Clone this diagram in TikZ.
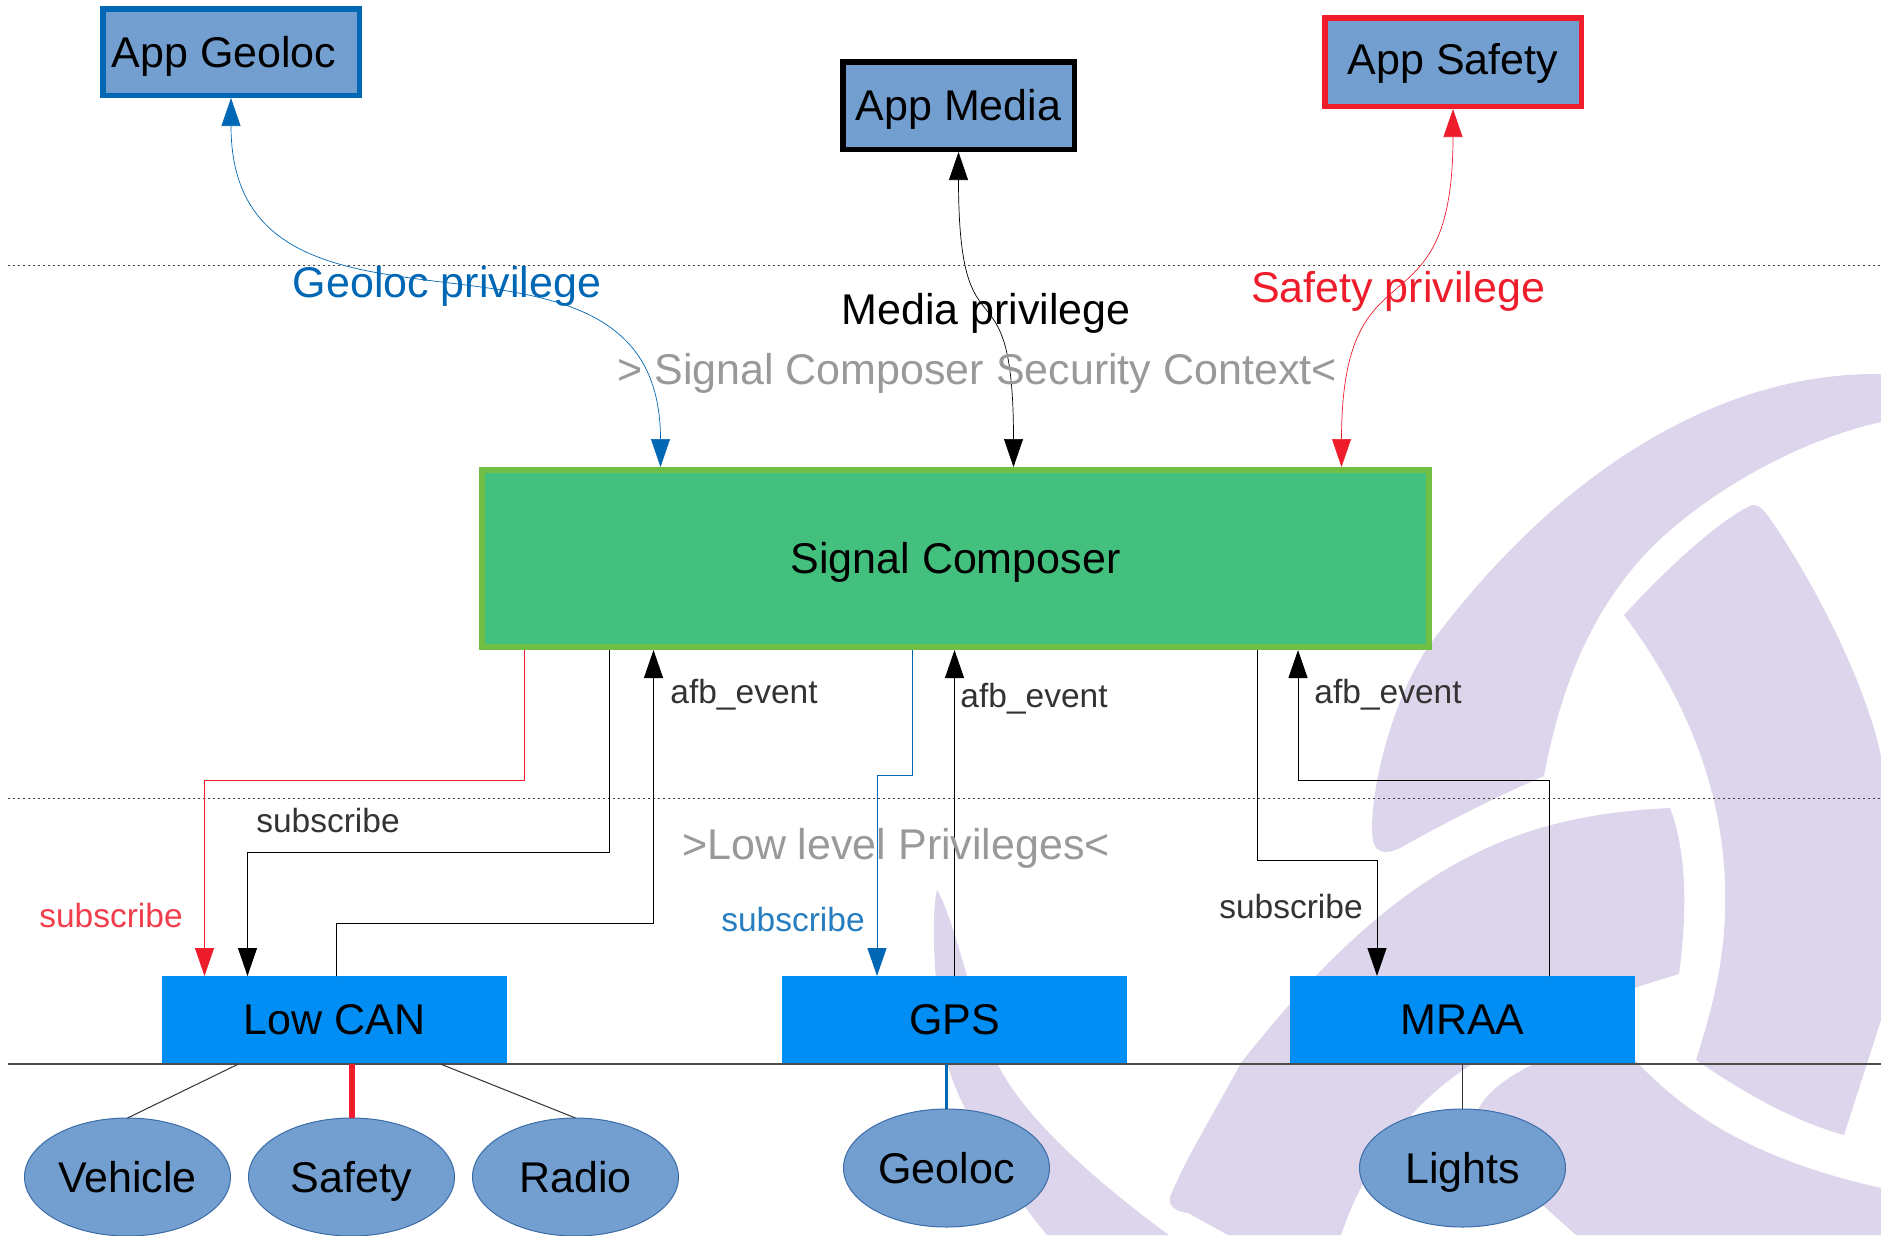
\documentclass[tikz,border=0pt]{standalone}
\usepackage{fontspec}
\setmainfont{Liberation Sans}
\usetikzlibrary{positioning,arrows.meta,shapes.geometric}
\definecolor{appfill}{HTML}{729FCF}
\definecolor{agblue}{HTML}{0067B5}
\definecolor{agred}{HTML}{EF1C2C}
\definecolor{composerfill}{HTML}{43BF7E}
\definecolor{composerline}{HTML}{70BF44}
\definecolor{bindingfill}{HTML}{008EF5}
\definecolor{ringline}{HTML}{3D6DA8}
\definecolor{logofill}{HTML}{DDD5EB}
\begin{document}
\begin{tikzpicture}[
            x=1pt, y=-1pt,
            >={Triangle[length=28pt,width=19pt]},
            bigfont/.style={font=\fontsize{43}{50}\selectfont},
            smallfont/.style={font=\fontsize{33.5}{40}\selectfont},
            app/.style={rectangle, draw, line width=5.5pt, fill=appfill, bigfont, text height=31pt, text depth=0pt, inner sep=0pt},
            composer/.style={rectangle, draw=composerline, line width=6pt, fill=composerfill, bigfont, text height=31pt, text depth=2pt, minimum width=947pt, minimum height=177pt},
            binding/.style={rectangle, fill=bindingfill, bigfont, text height=31pt, text depth=2pt, minimum width=345pt, minimum height=88pt, outer sep=0pt},
            ring/.style={ellipse, draw=ringline, line width=1pt, fill=appfill, bigfont, text height=31pt, text depth=0pt, minimum width=206pt, minimum height=118pt, inner sep=0pt, outer sep=0pt},
            arrow/.style={->, line width=1pt},
            privilege/.style={<->, line width=0.7pt},
            leg/.style={line width=1pt, draw=black!80},
            rule/.style={line width=1pt, draw=black!75, dash pattern=on 2pt off 3pt},
            biglabel/.style={bigfont, anchor=base, inner sep=0pt},
            smalllabel/.style={smallfont, anchor=base, inner sep=0pt},
            logo/.style={fill=logofill, draw=none}
        ]
        \useasboundingbox (0,0) rectangle (1881,1235);

        \begin{scope}
        \clip (0,0) rectangle (1881,1235);
        \fill[logo] (1881,374) .. controls (1720,372) and (1560,470) .. (1431,643)
            .. controls (1401,683) and (1372,770) .. (1372,830)
            .. controls (1372,855) and (1385,855) .. (1400,848)
            .. controls (1450,820) and (1500,795) .. (1544,776)
            .. controls (1560,690) and (1590,610) .. (1652,547)
            .. controls (1710,490) and (1800,440) .. (1881,422) -- cycle;
        \fill[logo] (1624,615) .. controls (1670,565) and (1720,520) .. (1750,506)
            .. controls (1757,503) and (1762,508) .. (1768,516)
            .. controls (1810,575) and (1865,680) .. (1881,756)
            -- (1881,1020) -- (1844,1135)
            .. controls (1790,1120) and (1740,1090) .. (1696,1060)
            .. controls (1715,1000) and (1727,950) .. (1725,885)
            .. controls (1722,780) and (1680,690) .. (1624,615) -- cycle;
        \fill[logo] (1670,808) .. controls (1520,815) and (1400,860) .. (1241,1063)
            .. controls (1210,1120) and (1185,1160) .. (1170,1197)
            .. controls (1168,1205) and (1175,1212) .. (1188,1213)
            -- (1228,1235) -- (1341,1235)
            .. controls (1370,1150) and (1420,1100) .. (1463,1070)
            .. controls (1520,1030) and (1590,1000) .. (1679,974)
            .. controls (1685,930) and (1690,860) .. (1670,808) -- cycle;
        \fill[logo] (1532,1065) .. controls (1500,1080) and (1480,1100) .. (1476,1115)
            .. controls (1470,1140) and (1520,1180) .. (1548,1210)
            -- (1576,1235) -- (1881,1235) -- (1881,1188)
            .. controls (1780,1165) and (1700,1130) .. (1635,1060) -- cycle;
        \fill[logo] (937,890) .. controls (930,920) and (935,1000) .. (947,1063)
            .. controls (960,1110) and (1005,1185) .. (1047,1235)
            -- (1169,1235) .. controls (1080,1170) and (1020,1110) .. (997,1063)
            .. controls (970,1000) and (955,920) .. (937,890) -- cycle;
        \end{scope}

        \coordinate (ruleAl) at (8,265);
        \coordinate (ruleAr) at (1881,265);
        \coordinate (ruleBl) at (8,798);
        \coordinate (ruleBr) at (1881,798);
        \coordinate (busl) at (8,1064);
        \coordinate (busr) at (1881,1064);

        \node[composer] (composer) at (955.5,558.5) {Signal Composer};
        \node[app, draw=black, text depth=2pt, minimum width=231.5pt, minimum height=87.5pt, above=315pt of composer, xshift=3pt] (appmedia) {App Media};
        \node[app, draw=agblue, minimum width=256.5pt, minimum height=86.5pt, above left=369pt and 117pt of composer] (appgeoloc) {App Geoloc\kern14pt};
        \node[app, draw=agred, text depth=6pt, minimum width=256.5pt, minimum height=88.5pt, above right=358pt and -110pt of composer] (appsafety) {App Safety};

        \node[binding, below=326pt of composer, xshift=-1pt] (gps) {GPS};
        \node[binding, left=275pt of gps] (lowcan) {Low CAN};
        \node[binding, right=163pt of gps] (mraa) {MRAA};

        \node[ring, below=54pt of lowcan, xshift=17pt] (safety) {Safety};
        \node[ring, left=18pt of safety] (vehicle) {Vehicle};
        \node[ring, right=18pt of safety] (radio) {Radio};
        \node[ring, below=45pt of gps, xshift=-8pt] (geoloc) {Geoloc};
        \node[ring, below=45pt of mraa] (lights) {Lights};

        \draw[rule] (ruleAl) -- (ruleAr);
        \draw[rule] (ruleBl) -- (ruleBr);
        \draw[line width=1.5pt, draw=black!70] (busl) -- (busr);

        \draw[privilege, draw=agblue] (appgeoloc.south) to[out=270, in=90, looseness=1.3] ([xshift=-295pt]composer.north);
        \draw[privilege, draw=black] (appmedia.south) to[out=270, in=90, looseness=1.75] ([xshift=58pt]composer.north);
        \draw[privilege, draw=agred] (appsafety.south) to[out=270, in=90, looseness=1.6] ([xshift=386pt]composer.north);

        \draw[arrow, draw=agred] ([xshift=-431.5pt]composer.south) -- ++(0,130) -| ([xshift=-130pt]lowcan.north);
        \draw[arrow] ([xshift=-346.5pt]composer.south) -- ++(0,202) -| ([xshift=-87pt]lowcan.north);
        \draw[arrow] ([xshift=2pt]lowcan.north) -- ++(0,-53) -| ([xshift=-302pt]composer.south);
        \draw[arrow, draw=agblue] ([xshift=-43.5pt]composer.south) -- ++(0,125) -| ([xshift=-77.5pt]gps.north);
        \draw[arrow] (gps.north) -- (gps.north |- composer.south);
        \draw[arrow] ([xshift=301.5pt]composer.south) -- ++(0,210) -| ([xshift=-85.5pt]mraa.north);
        \draw[arrow] ([xshift=86.5pt]mraa.north) -- ++(0,-196) -| ([xshift=342.5pt]composer.south);

        \draw[leg] ([xshift=-96pt]lowcan.south) -- (vehicle.north);
        \draw[line width=6pt, draw=agred] (lowcan.south -| safety.north) -- (safety.north);
        \draw[leg] ([xshift=106pt]lowcan.south) -- (radio.north);
        \draw[line width=3pt, draw=agblue] (gps.south -| geoloc.north) -- (geoloc.north);
        \draw[leg] (mraa.south) -- (lights.north);

        \node[biglabel, text=agblue] (geolocpriv) at (447,297) {Geoloc privilege};
        \node[biglabel, text=black] (mediapriv) at (986,324) {Media privilege};
        \node[biglabel, text=agred] (safetypriv) at (1398,302) {Safety privilege};
        \node[biglabel, text=black!40] (securityctx) at (977,384) {> Signal Composer Security Context<};
        \node[biglabel, text=black!40] (lowpriv) at (896,859) {>Low level Privileges<};

        \node[smalllabel, text=black!80] (sublowcan) at (328,832) {subscribe};
        \node[smalllabel, text=agred!85] (subsafety) at (111,927) {subscribe};
        \node[smalllabel, text=agblue!85] (subgps) at (793,931) {subscribe};
        \node[smalllabel, text=black!80] (submraa) at (1291,918) {subscribe};
        \node[smalllabel, text=black!80] (evlowcan) at (744,703) {afb\_event};
        \node[smalllabel, text=black!80] (evgps) at (1034,707) {afb\_event};
        \node[smalllabel, text=black!80] (evmraa) at (1388,703) {afb\_event};
        \end{tikzpicture}
\end{document}
